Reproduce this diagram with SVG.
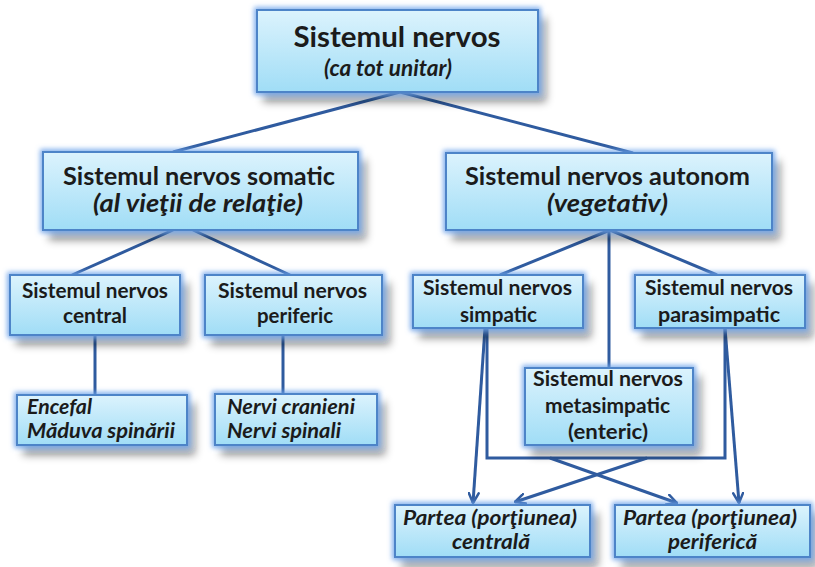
<svg xmlns="http://www.w3.org/2000/svg" width="815" height="567" viewBox="0 0 815 567">
<defs>
<linearGradient id="fill" x1="0" y1="0" x2="0" y2="1">
<stop offset="0" stop-color="#dcf3fd"/>
<stop offset="1" stop-color="#a0ddf6"/>
</linearGradient>
<filter id="fx" x="-15%" y="-25%" width="140%" height="175%">
<feGaussianBlur in="SourceAlpha" stdDeviation="4" result="b"/>
<feOffset in="b" dx="7" dy="9" result="o"/>
<feFlood flood-color="#000" flood-opacity="0.45"/>
<feComposite in2="o" operator="in" result="s"/>
<feMorphology in="SourceAlpha" operator="dilate" radius="2" result="d"/>
<feGaussianBlur in="d" stdDeviation="2.5" result="db"/>
<feFlood flood-color="#6ea3ea" flood-opacity="0.85"/>
<feComposite in2="db" operator="in" result="g"/>
<feMerge><feMergeNode in="s"/><feMergeNode in="g"/><feMergeNode in="SourceGraphic"/></feMerge>
</filter>
<marker id="arr" viewBox="0 0 12 12" refX="11" refY="6" markerWidth="12" markerHeight="12" markerUnits="userSpaceOnUse" orient="auto">
<path d="M1,1 L11,6 L1,11" fill="none" stroke="#2f5b9f" stroke-width="2.5" stroke-linecap="round" stroke-linejoin="round"/>
</marker>
<style>
.box{fill:url(#fill);stroke:#4d84c8;stroke-width:2;filter:url(#fx)}
.t{font-family:Lato,"Liberation Sans",sans-serif;font-weight:700;fill:#1b1b1b;text-anchor:middle}
.l{font-family:Lato,"Liberation Sans",sans-serif;font-weight:700;font-style:italic;fill:#1b1b1b}
.i{font-style:italic}
.c line,.c path{stroke:#2f5b9f;stroke-width:3;fill:none}
</style>
</defs>
<g class="c" id="connectors">
<line x1="400" y1="92" x2="173" y2="152"/>
<line x1="400" y1="92" x2="633" y2="153"/>
<line x1="173" y1="230" x2="72" y2="275"/>
<line x1="193" y1="230" x2="290" y2="275"/>
<line x1="95" y1="335" x2="95" y2="395"/>
<line x1="283" y1="335" x2="283" y2="394"/>
<line x1="610" y1="230" x2="500" y2="275"/>
<line x1="610" y1="230" x2="717" y2="275"/>
<line x1="609" y1="230" x2="609" y2="368"/>
<path d="M487,328 V458 H725 V328"/>
<line x1="485" y1="328" x2="473" y2="503" marker-end="url(#arr)"/>
<line x1="725" y1="328" x2="739" y2="503" marker-end="url(#arr)"/>
<line x1="550" y1="458" x2="677" y2="503" marker-end="url(#arr)"/>
<line x1="647" y1="458" x2="515" y2="502" marker-end="url(#arr)"/>
</g>
<g id="n-top">
<rect class="box" x="257" y="10" width="281" height="82"/>
<text class="t" x="397" y="47" font-size="29" textLength="207" lengthAdjust="spacingAndGlyphs">Sistemul nervos</text>
<text class="t i" x="388" y="76" font-size="23" textLength="128" lengthAdjust="spacingAndGlyphs">(ca tot unitar)</text>
</g>
<g id="n-somatic">
<rect class="box" x="43" y="152" width="315" height="78"/>
<text class="t" x="199" y="185" font-size="25" textLength="272" lengthAdjust="spacingAndGlyphs">Sistemul nervos somatic</text>
<text class="t i" x="198" y="212" font-size="24" textLength="210" lengthAdjust="spacingAndGlyphs">(al vieţii de relaţie)</text>
</g>
<g id="n-autonom">
<rect class="box" x="446" y="153" width="326" height="77"/>
<text class="t" x="607.5" y="185" font-size="25" textLength="285" lengthAdjust="spacingAndGlyphs">Sistemul nervos autonom</text>
<text class="t i" x="607.5" y="212" font-size="24" textLength="121" lengthAdjust="spacingAndGlyphs">(vegetativ)</text>
</g>
<g id="n-central">
<rect class="box" x="10" y="275" width="170" height="60"/>
<text class="t" x="95" y="298" font-size="20" textLength="146" lengthAdjust="spacingAndGlyphs">Sistemul nervos</text>
<text class="t" x="95" y="323" font-size="20" textLength="64" lengthAdjust="spacingAndGlyphs">central</text>
</g>
<g id="n-periferic">
<rect class="box" x="205" y="275" width="177" height="60"/>
<text class="t" x="292.5" y="298" font-size="20" textLength="149" lengthAdjust="spacingAndGlyphs">Sistemul nervos</text>
<text class="t" x="295" y="323" font-size="20" textLength="76" lengthAdjust="spacingAndGlyphs">periferic</text>
</g>
<g id="n-encefal">
<rect class="box" x="17" y="395" width="170" height="50"/>
<text class="l" x="27" y="414" font-size="20" textLength="65" lengthAdjust="spacingAndGlyphs">Encefal</text>
<text class="l" x="27" y="438" font-size="20" textLength="148" lengthAdjust="spacingAndGlyphs">Măduva spinării</text>
</g>
<g id="n-nervi">
<rect class="box" x="215" y="394" width="162" height="51"/>
<text class="l" x="227" y="414" font-size="20" textLength="128" lengthAdjust="spacingAndGlyphs">Nervi cranieni</text>
<text class="l" x="227" y="438" font-size="20" textLength="114" lengthAdjust="spacingAndGlyphs">Nervi spinali</text>
</g>
<g id="n-simpatic">
<rect class="box" x="413" y="275" width="170" height="53"/>
<text class="t" x="497.5" y="295" font-size="20" textLength="149" lengthAdjust="spacingAndGlyphs">Sistemul nervos</text>
<text class="t" x="498.5" y="322" font-size="20" textLength="77" lengthAdjust="spacingAndGlyphs">simpatic</text>
</g>
<g id="n-parasimpatic">
<rect class="box" x="635" y="275" width="170" height="53"/>
<text class="t" x="719" y="295" font-size="20" textLength="148" lengthAdjust="spacingAndGlyphs">Sistemul nervos</text>
<text class="t" x="719" y="322" font-size="20" textLength="122" lengthAdjust="spacingAndGlyphs">parasimpatic</text>
</g>
<g id="n-metasimpatic">
<rect class="box" x="525" y="368" width="168" height="77"/>
<text class="t" x="608" y="386" font-size="20" textLength="150" lengthAdjust="spacingAndGlyphs">Sistemul nervos</text>
<text class="t" x="607.5" y="413" font-size="20" textLength="125" lengthAdjust="spacingAndGlyphs">metasimpatic</text>
<text class="t" x="608" y="439" font-size="20" textLength="80" lengthAdjust="spacingAndGlyphs">(enteric)</text>
</g>
<g id="n-partea-centrala">
<rect class="box" x="395" y="505" width="195" height="52"/>
<text class="t i" x="490" y="525" font-size="20" textLength="174" lengthAdjust="spacingAndGlyphs">Partea (porţiunea)</text>
<text class="t i" x="491" y="549" font-size="20" textLength="78" lengthAdjust="spacingAndGlyphs">centrală</text>
</g>
<g id="n-partea-periferica">
<rect class="box" x="615" y="505" width="195" height="52"/>
<text class="t i" x="710" y="525" font-size="20" textLength="174" lengthAdjust="spacingAndGlyphs">Partea (porţiunea)</text>
<text class="t i" x="712.5" y="549" font-size="20" textLength="89" lengthAdjust="spacingAndGlyphs">periferică</text>
</g>
</svg>
